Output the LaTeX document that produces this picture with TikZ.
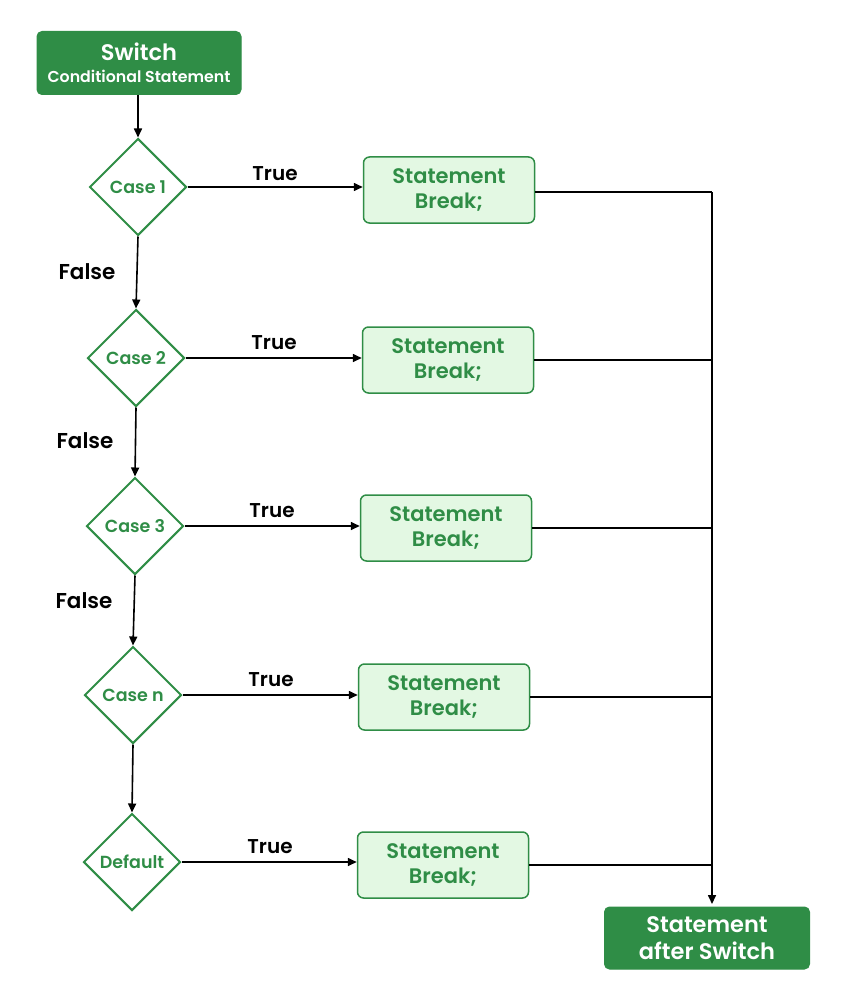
\documentclass[tikz,border=0pt]{standalone}
\usepackage{fontspec}
\setmainfont{Poppins}[BoldFont={Poppins SemiBold}]
\usetikzlibrary{shapes.geometric,arrows.meta}
\definecolor{gfg}{HTML}{2F8D46}
\definecolor{lightg}{HTML}{E3F8E3}
\tikzset{
  darkbox/.style={draw=gfg, fill=gfg, rounded corners=5pt, line width=1pt, text=white, align=center, inner sep=0pt},
  stmtbox/.style={draw=gfg, fill=lightg, rounded corners=6pt, line width=1.5pt, text=gfg, align=center, minimum width=171pt, minimum height=66pt, inner sep=0pt, font=\bfseries\fontsize{21}{25}\selectfont},
  casebox/.style={draw=gfg, diamond, line width=2pt, text=gfg, minimum width=97pt, minimum height=97pt, inner sep=0pt, font=\bfseries\fontsize{17.5}{18}\selectfont, aspect=1},
  conn/.style={line width=1.6pt, black},
  arr/.style={conn, -{Triangle[length=9pt,width=8pt]}},
  lbl/.style={font=\bfseries\fontsize{20}{22}\selectfont, text=black},
}
\begin{document}
\begin{tikzpicture}[x=1pt,y=-1pt]
\useasboundingbox (0,0) rectangle (849,1003);
\node[darkbox, minimum width=204pt, minimum height=63pt, font=\bfseries\fontsize{22.5}{22}\selectfont] (sw) at (139,63) {Switch\\\fontsize{15.8}{18}\selectfont Conditional Statement};
\node[casebox] (c1) at (138,187) {Case 1};
\node[casebox] (c2) at (136,358) {Case 2};
\node[casebox] (c3) at (135,526) {Case 3};
\node[casebox] (c4) at (133,695) {Case n};
\node[casebox] (c5) at (132,862) {Default};
\node[stmtbox] (s1) at (449,190) {Statement\\Break;};
\node[stmtbox] (s2) at (448,360) {Statement\\Break;};
\node[stmtbox] (s3) at (446,528) {Statement\\Break;};
\node[stmtbox] (s4) at (444,697) {Statement\\Break;};
\node[stmtbox] (s5) at (443,865) {Statement\\Break;};
\node[darkbox, minimum width=205pt, minimum height=62pt, font=\bfseries\fontsize{22.5}{27}\selectfont] (after) at (707,938) {Statement\\after Switch};
\coordinate (top) at (712,192);
\coordinate (bot) at (712,904);
% vertical chain
\draw[arr] (sw.south -| c1.north) -- (c1.north);
\draw[arr] (c1.south) -- (c2.north);
\draw[arr] (c2.south) -- (c3.north);
\draw[arr] (c3.south) -- (c4.north);
\draw[arr] (c4.south) -- (c5.north);
% true arrows
\draw[arr] (c1.east) -- (c1.east -| s1.west);
\draw[arr] (c2.east) -- (c2.east -| s2.west);
\draw[arr] (c3.east) -- (c3.east -| s3.west);
\draw[arr] (c4.east) -- (c4.east -| s4.west);
\draw[arr] (c5.east) -- (c5.east -| s5.west);
% right bus
\draw[conn] (s1.east |- top) -- (top);
\draw[conn] (s2.east) -- (s2.east -| top);
\draw[conn] (s3.east) -- (s3.east -| top);
\draw[conn] (s4.east) -- (s4.east -| top);
\draw[conn] (s5.east) -- (s5.east -| top);
\draw[arr] (top) -- (bot);
% labels
\node[lbl] (t1) at (275,174) {True};
\node[lbl] (t2) at (274,343) {True};
\node[lbl] (t3) at (272,511) {True};
\node[lbl] (t4) at (271,680) {True};
\node[lbl] (t5) at (270,847) {True};
\node[lbl, font=\bfseries\fontsize{21.5}{22}\selectfont] (f1) at (87,272) {False};
\node[lbl, font=\bfseries\fontsize{21.5}{22}\selectfont] (f2) at (85,441) {False};
\node[lbl, font=\bfseries\fontsize{21.5}{22}\selectfont] (f3) at (84,601) {False};
\end{tikzpicture}
\end{document}
